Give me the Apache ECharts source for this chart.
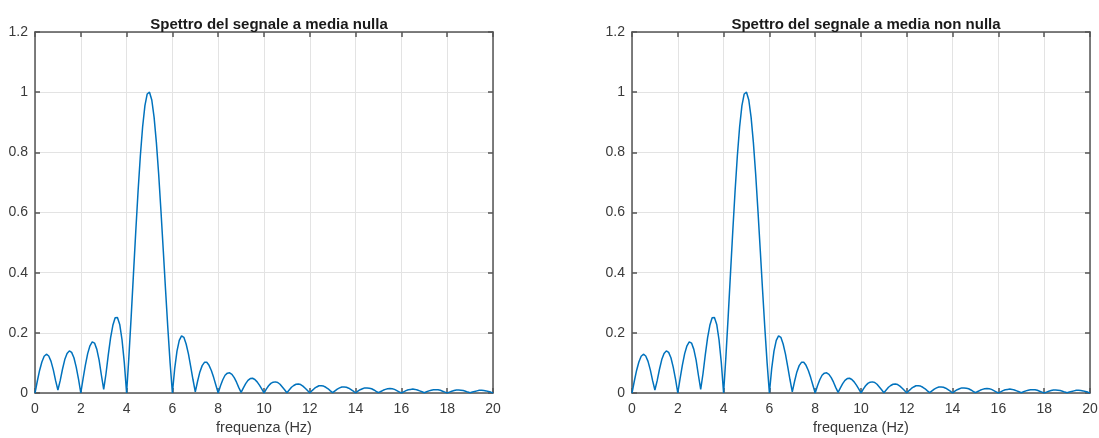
<!DOCTYPE html>
<html>
<head>
<meta charset="utf-8">
<script src="https://cdn.jsdelivr.net/npm/echarts@6/dist/echarts.min.js"></script>
<style>
html,body{margin:0;padding:0;background:#fff;}
#chart{width:1099px;height:438px;}
</style>
</head>
<body>
<div id="chart"></div>
<script>
const titles = ["Spettro del segnale a media nulla", "Spettro del segnale a media non nulla"];
const xLabel = "frequenza (Hz)";
const xRange = [0, 20, 2];
const yRange = [0, 1.2, 0.2];

const freqHz = [
0,0.1,0.2,0.3,0.4,0.5,0.6,0.7,0.8,0.9,
1,1.1,1.2,1.3,1.4,1.5,1.6,1.7,1.8,1.9,
2,2.1,2.2,2.3,2.4,2.5,2.6,2.7,2.8,2.9,
3,3.1,3.2,3.3,3.4,3.5,3.6,3.7,3.8,3.9,
4,4.1,4.2,4.3,4.4,4.5,4.6,4.7,4.8,4.9,
5,5.1,5.2,5.3,5.4,5.5,5.6,5.7,5.8,5.9,
6,6.1,6.2,6.3,6.4,6.5,6.6,6.7,6.8,6.9,
7,7.1,7.2,7.3,7.4,7.5,7.6,7.7,7.8,7.9,
8,8.1,8.2,8.3,8.4,8.5,8.6,8.7,8.8,8.9,
9,9.1,9.2,9.3,9.4,9.5,9.6,9.7,9.8,9.9,
10,10.1,10.2,10.3,10.4,10.5,10.6,10.7,10.8,10.9,
11,11.1,11.2,11.3,11.4,11.5,11.6,11.7,11.8,11.9,
12,12.1,12.2,12.3,12.4,12.5,12.6,12.7,12.8,12.9,
13,13.1,13.2,13.3,13.4,13.5,13.6,13.7,13.8,13.9,
14,14.1,14.2,14.3,14.4,14.5,14.6,14.7,14.8,14.9,
15,15.1,15.2,15.3,15.4,15.5,15.6,15.7,15.8,15.9,
16,16.1,16.2,16.3,16.4,16.5,16.6,16.7,16.8,16.9,
17,17.1,17.2,17.3,17.4,17.5,17.6,17.7,17.8,17.9,
18,18.1,18.2,18.3,18.4,18.5,18.6,18.7,18.8,18.9,
19,19.1,19.2,19.3,19.4,19.5,19.6,19.7,19.8,19.9,
20];

const ampMediaNulla = [
0,0.039,0.075,0.103,0.122,0.129,0.123,0.105,0.077,0.041,
0.010,0.041,0.079,0.111,0.131,0.140,0.135,0.117,0.086,0.046,
0,0.048,0.093,0.131,0.157,0.170,0.166,0.145,0.109,0.059,
0.012,0.064,0.127,0.183,0.225,0.250,0.251,0.228,0.177,0.101,
0,0.120,0.254,0.396,0.537,0.670,0.788,0.885,0.955,0.994,
1,0.974,0.917,0.833,0.728,0.606,0.476,0.344,0.217,0.100,
0,0.081,0.139,0.175,0.190,0.185,0.163,0.130,0.088,0.044,
0.004,0.039,0.070,0.091,0.102,0.102,0.092,0.075,0.052,0.026,
0,0.024,0.044,0.059,0.066,0.067,0.062,0.051,0.036,0.018,
0.002,0.017,0.031,0.042,0.048,0.049,0.045,0.037,0.026,0.014,
0,0.013,0.024,0.032,0.036,0.037,0.035,0.029,0.020,0.011,
0.001,0.010,0.019,0.025,0.029,0.030,0.028,0.023,0.016,0.008,
0,0.008,0.015,0.020,0.024,0.024,0.023,0.019,0.014,0.007,
0.001,0.007,0.013,0.017,0.020,0.020,0.019,0.016,0.011,0.006,
0,0.006,0.011,0.014,0.017,0.017,0.016,0.014,0.010,0.005,
0.001,0.005,0.009,0.012,0.014,0.015,0.014,0.012,0.008,0.004,
0,0.004,0.008,0.011,0.012,0.013,0.012,0.010,0.007,0.004,
0.001,0.004,0.007,0.009,0.011,0.011,0.011,0.009,0.006,0.003,
0,0.003,0.006,0.008,0.010,0.010,0.009,0.008,0.006,0.003,
0.001,0.003,0.005,0.007,0.009,0.009,0.008,0.007,0.005,0.003,
0];

const ampMediaNonNulla = [
0,0.039,0.075,0.103,0.122,0.129,0.123,0.105,0.077,0.041,
0.010,0.041,0.079,0.111,0.131,0.140,0.135,0.117,0.086,0.046,
0,0.048,0.093,0.131,0.157,0.170,0.166,0.145,0.109,0.059,
0.012,0.064,0.127,0.183,0.225,0.250,0.251,0.228,0.177,0.101,
0,0.120,0.254,0.396,0.537,0.670,0.788,0.885,0.955,0.994,
1,0.974,0.917,0.833,0.728,0.606,0.476,0.344,0.217,0.100,
0,0.081,0.139,0.175,0.190,0.185,0.163,0.130,0.088,0.044,
0.004,0.039,0.070,0.091,0.102,0.102,0.092,0.075,0.052,0.026,
0,0.024,0.044,0.059,0.066,0.067,0.062,0.051,0.036,0.018,
0.002,0.017,0.031,0.042,0.048,0.049,0.045,0.037,0.026,0.014,
0,0.013,0.024,0.032,0.036,0.037,0.035,0.029,0.020,0.011,
0.001,0.010,0.019,0.025,0.029,0.030,0.028,0.023,0.016,0.008,
0,0.008,0.015,0.020,0.024,0.024,0.023,0.019,0.014,0.007,
0.001,0.007,0.013,0.017,0.020,0.020,0.019,0.016,0.011,0.006,
0,0.006,0.011,0.014,0.017,0.017,0.016,0.014,0.010,0.005,
0.001,0.005,0.009,0.012,0.014,0.015,0.014,0.012,0.008,0.004,
0,0.004,0.008,0.011,0.012,0.013,0.012,0.010,0.007,0.004,
0.001,0.004,0.007,0.009,0.011,0.011,0.011,0.009,0.006,0.003,
0,0.003,0.006,0.008,0.010,0.010,0.009,0.008,0.006,0.003,
0.001,0.003,0.005,0.007,0.009,0.009,0.008,0.007,0.005,0.003,
0];

const FONT = '"Liberation Sans", Arial, Helvetica, sans-serif';
const AXIS_COLOR = '#555555';
const TEXT_COLOR = '#3a3a3a';
const GRID_COLOR = '#e3e3e3';
const LINE_COLOR = '#0072BD';

const grids = [
  {left: 35, top: 32, width: 458, height: 361, outerBoundsMode: 'none', containLabel: false},
  {left: 632, top: 32, width: 458, height: 361, outerBoundsMode: 'none', containLabel: false}
];

function pairs(xs, ys){ return xs.map((x,i)=>[x, ys[i]]); }

const xAxes = [], yAxes = [], series = [], titleArr = [];
const datasets = [ampMediaNulla, ampMediaNonNulla];

grids.forEach((g, gi) => {
  titleArr.push({
    text: titles[gi],
    left: g.left + g.width/2,
    textAlign: 'center',
    top: 12,
    textStyle: {fontFamily: FONT, fontSize: 15, fontWeight: 'bold', color: '#1a1a1a'}
  });
  xAxes.push({
    gridIndex: gi, type: 'value', position: 'bottom',
    min: xRange[0], max: xRange[1], interval: xRange[2],
    name: xLabel, nameLocation: 'middle', nameGap: 27,
    nameTextStyle: {fontFamily: FONT, fontSize: 14.5, color: TEXT_COLOR},
    axisLine: {show: true, onZero: false, lineStyle: {color: AXIS_COLOR, width: 1.5}},
    axisTick: {show: true, inside: true, length: 5, lineStyle: {color: AXIS_COLOR, width: 1.5}},
    axisLabel: {fontFamily: FONT, fontSize: 14, color: TEXT_COLOR, margin: 9},
    splitLine: {show: true, lineStyle: {color: GRID_COLOR, width: 1}}
  });
  xAxes.push({
    gridIndex: gi, type: 'value', position: 'top',
    min: xRange[0], max: xRange[1], interval: xRange[2],
    axisLine: {show: true, onZero: false, lineStyle: {color: AXIS_COLOR, width: 1.5}},
    axisTick: {show: true, inside: true, length: 5, lineStyle: {color: AXIS_COLOR, width: 1.5}},
    axisLabel: {show: false},
    splitLine: {show: false}
  });
  yAxes.push({
    gridIndex: gi, type: 'value', position: 'left',
    min: yRange[0], max: yRange[1], interval: yRange[2],
    axisLine: {show: true, onZero: false, lineStyle: {color: AXIS_COLOR, width: 1.5}},
    axisTick: {show: true, inside: true, length: 5, lineStyle: {color: AXIS_COLOR, width: 1.5}},
    axisLabel: {fontFamily: FONT, fontSize: 14, color: TEXT_COLOR, margin: 7},
    splitLine: {show: true, lineStyle: {color: GRID_COLOR, width: 1}}
  });
  yAxes.push({
    gridIndex: gi, type: 'value', position: 'right',
    min: yRange[0], max: yRange[1], interval: yRange[2],
    axisLine: {show: true, onZero: false, lineStyle: {color: AXIS_COLOR, width: 1.5}},
    axisTick: {show: true, inside: true, length: 5, lineStyle: {color: AXIS_COLOR, width: 1.5}},
    axisLabel: {show: false},
    splitLine: {show: false}
  });
  series.push({
    type: 'line',
    xAxisIndex: gi*2, yAxisIndex: gi*2,
    data: pairs(freqHz, datasets[gi]),
    showSymbol: false, symbol: 'none',
    smooth: false,
    lineStyle: {color: LINE_COLOR, width: 1.5},
    animation: false, z: 1
  });
});

const chart = echarts.init(document.getElementById('chart'), null, {renderer: 'canvas'});
chart.setOption({
  animation: false,
  backgroundColor: '#ffffff',
  title: titleArr,
  grid: grids,
  xAxis: xAxes,
  yAxis: yAxes,
  series: series
});
</script>
</body>
</html>
